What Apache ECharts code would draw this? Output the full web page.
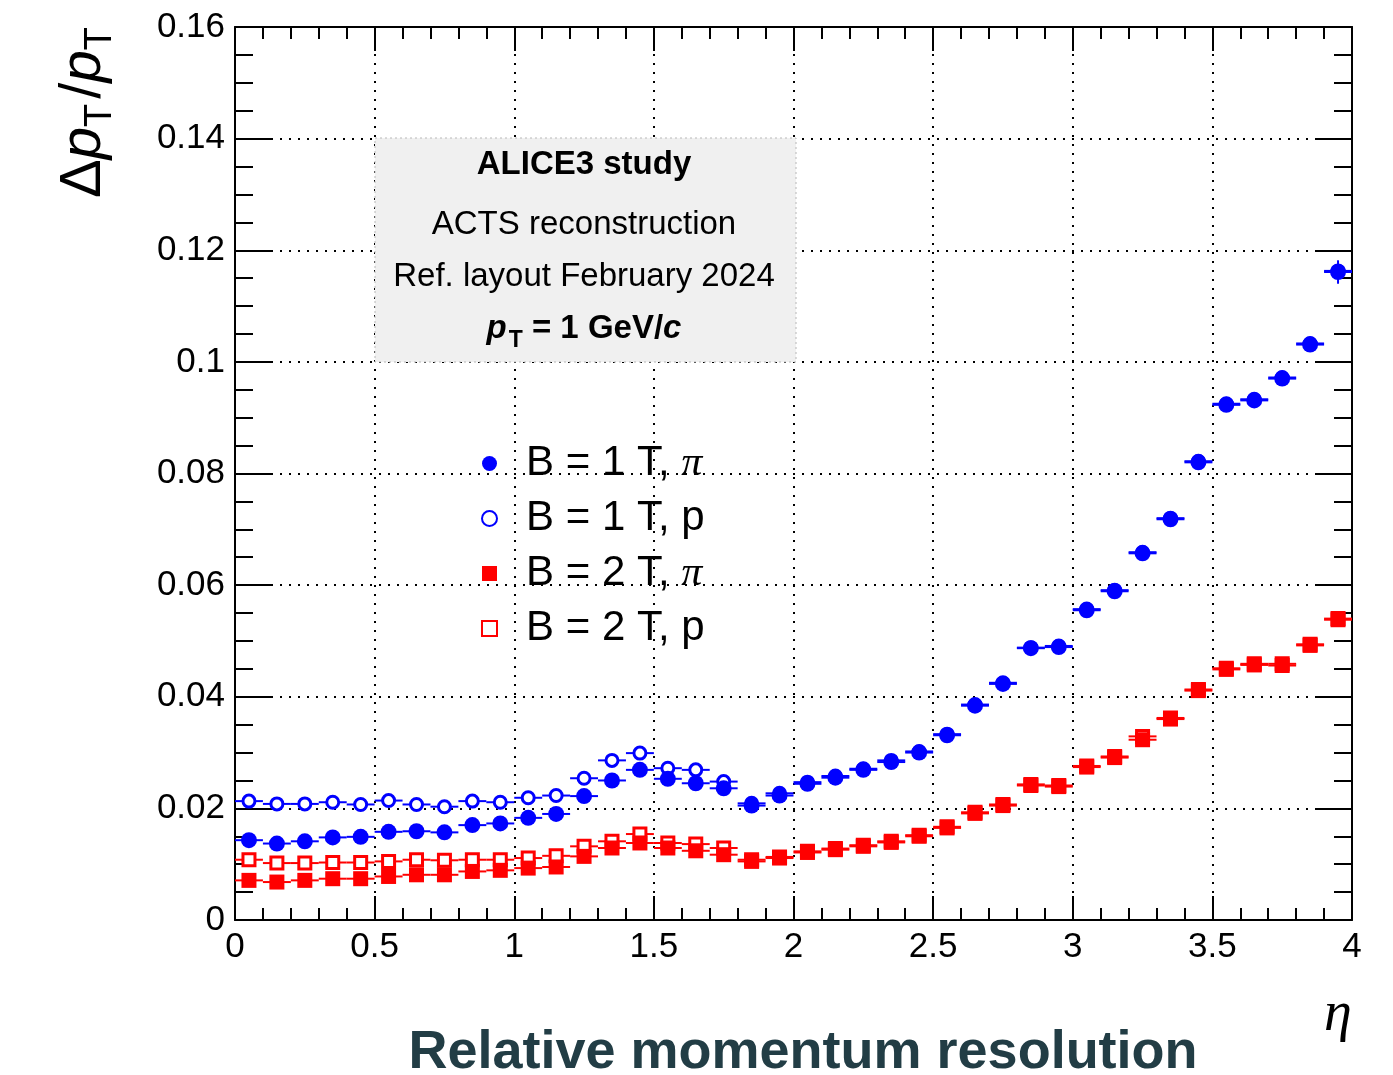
<!DOCTYPE html>
<html>
<head>
<meta charset="utf-8">
<script src="https://cdn.jsdelivr.net/npm/echarts@6/dist/echarts.min.js"></script>
<style>
html,body{margin:0;padding:0;background:#fff;}
#chart{width:1393px;height:1075px;}
</style>
</head>
<body>
<div id="chart"></div>
<script>
// ---- data ----
const eta = [0.05,0.15,0.25,0.35,0.45,0.55,0.65,0.75,0.85,0.95,
             1.05,1.15,1.25,1.35,1.45,1.55,1.65,1.75,1.85,1.95,
             2.05,2.15,2.25,2.35,2.45,2.55,2.65,2.75,2.85,2.95,
             3.05,3.15,3.25,3.35,3.45,3.55,3.65,3.75,3.85,3.95];
const binHalfWidth = 0.05;

const b1Pi = [0.0143,0.0137,0.0141,0.0148,0.0149,0.0158,0.0159,0.0157,0.0170,0.0173,
              0.0183,0.0190,0.0222,0.0250,0.0269,0.0253,0.0245,0.0236,0.0205,0.0223,
              0.0244,0.0255,0.0269,0.0283,0.0300,0.0331,0.0384,0.0423,0.0487,0.0489,
              0.0555,0.0589,0.0657,0.0718,0.0820,0.0923,0.0931,0.0970,0.1031,0.1161];
const b1PiErr = [0.0003,0.0003,0.0003,0.0003,0.0003,0.0003,0.0003,0.0003,0.0003,0.0003,
                 0.0003,0.0003,0.0003,0.0003,0.0003,0.0003,0.0003,0.0003,0.0003,0.0003,
                 0.0003,0.0003,0.0003,0.0003,0.0003,0.0003,0.0003,0.0003,0.0003,0.0003,
                 0.0003,0.0003,0.0004,0.0004,0.0005,0.0008,0.0008,0.0008,0.0012,0.0021];
const b1P  = [0.0213,0.0208,0.0208,0.0211,0.0207,0.0214,0.0207,0.0203,0.0213,0.0211,
              0.0219,0.0223,0.0254,0.0286,0.0299,0.0272,0.0269,0.0248,0.0209,0.0227,
              0.0247,0.0258,0.0271,0.0286,0.0302,0.0333,0.0386,0.0425,0.0488,0.0491,
              0.0557,0.0591,0.0659,0.0720,0.0822,0.0925,0.0933,0.0972,0.1033,0.1163];
const b2Pi = [0.0071,0.0068,0.0071,0.0074,0.0074,0.0078,0.0081,0.0081,0.0087,0.0089,
              0.0093,0.0095,0.0114,0.0129,0.0138,0.0129,0.0124,0.0117,0.0105,0.0111,
              0.0121,0.0126,0.0132,0.0139,0.0150,0.0165,0.0191,0.0205,0.0241,0.0239,
              0.0274,0.0291,0.0323,0.0360,0.0411,0.0449,0.0457,0.0456,0.0492,0.0538];
const b2P  = [0.0108,0.0102,0.0102,0.0103,0.0103,0.0105,0.0108,0.0107,0.0108,0.0108,
              0.0111,0.0115,0.0132,0.0141,0.0154,0.0138,0.0136,0.0129,0.0108,0.0113,
              0.0123,0.0128,0.0134,0.0141,0.0152,0.0167,0.0193,0.0207,0.0243,0.0241,
              0.0276,0.0293,0.0329,0.0362,0.0413,0.0451,0.0459,0.0459,0.0494,0.0540];

const seriesNames = ['B = 1 T, π', 'B = 1 T, p', 'B = 2 T, π', 'B = 2 T, p'];
const infoLines = ['ALICE3 study', 'ACTS reconstruction', 'Ref. layout February 2024'];
const chartTitle = 'Relative momentum resolution';

// ---- build ----
const BLUE = '#0000ff', RED = '#ff0000';
const FONT = '"Liberation Sans", Arial, Helvetica, sans-serif';
const SERIF = '"Liberation Serif", "DejaVu Serif", serif';

function pts(vals) { return eta.map((x, i) => [x, vals[i]]); }
function errPts(vals, errs) {
  return eta.map((x, i) => [x, vals[i], binHalfWidth, errs ? errs[i] : 0]);
}
function renderErr(params, api) {
  const x = api.value(0), y = api.value(1), ex = api.value(2), ey = api.value(3);
  const l = api.coord([x - ex, y]), r = api.coord([x + ex, y]);
  const b = api.coord([x, y - ey]), t = api.coord([x, y + ey]);
  const style = { stroke: api.visual('color'), lineWidth: 2 };
  const children = [{ type: 'line', shape: { x1: l[0], y1: l[1], x2: r[0], y2: r[1] }, style }];
  if (ey > 0) children.push({ type: 'line', shape: { x1: b[0], y1: b[1], x2: t[0], y2: t[1] }, style });
  return { type: 'group', children };
}
function errSeries(vals, errs, color) {
  return { type: 'custom', renderItem: renderErr, data: errPts(vals, errs),
           encode: { x: 0, y: 1 }, itemStyle: { color }, z: 2, silent: true, clip: true };
}

const chart = echarts.init(document.getElementById('chart'), null, { renderer: 'canvas' });

const xAxisBase = {
  type: 'value', min: 0, max: 4, interval: 0.5,
  axisLine: { show: true, onZero: false, lineStyle: { color: '#000', width: 2 } },
  axisTick: { show: true, inside: true, length: 24, lineStyle: { color: '#000', width: 2 } },
  minorTick: { show: true, splitNumber: 5, length: 12, lineStyle: { color: '#000', width: 2 } },
};
const yAxisBase = {
  type: 'value', min: 0, max: 0.16, interval: 0.02,
  axisLine: { show: true, onZero: false, lineStyle: { color: '#000', width: 2 } },
  axisTick: { show: true, inside: true, length: 36, lineStyle: { color: '#000', width: 2 } },
  minorTick: { show: true, splitNumber: 4, length: 18, lineStyle: { color: '#000', width: 2 } },
};

const option = {
  backgroundColor: '#fff',
  animation: false,
  grid: { left: 235, right: 41, top: 27, bottom: 155, containLabel: false },
  xAxis: [
    Object.assign({}, xAxisBase, {
      position: 'bottom',
      axisLabel: { fontSize: 35, color: '#000', fontFamily: FONT, margin: 10 },
      splitLine: { show: true, lineStyle: { color: '#000', type: [2, 7], width: 2 } },
    }),
    Object.assign({}, xAxisBase, {
      position: 'top', axisLabel: { show: false }, splitLine: { show: false },
    }),
  ],
  yAxis: [
    Object.assign({}, yAxisBase, {
      position: 'left',
      axisLabel: { fontSize: 35, color: '#000', fontFamily: FONT, margin: 10 },
      splitLine: { show: true, lineStyle: { color: '#000', type: [2, 7], width: 2 } },
    }),
    Object.assign({}, yAxisBase, {
      position: 'right', axisLabel: { show: false }, splitLine: { show: false },
    }),
  ],
  legend: {
    data: seriesNames,
    orient: 'vertical',
    left: 476, top: 431,
    itemGap: 0, itemWidth: 15, itemHeight: 15,
    selectedMode: false,
    textStyle: {
      fontFamily: FONT, fontSize: 42, color: '#000', lineHeight: 55,
      rich: {
        t: { fontFamily: FONT, fontSize: 42, color: '#000', lineHeight: 55, padding: [0, 0, 0, 24] },
        pi: { fontFamily: SERIF, fontStyle: 'italic', fontSize: 42, color: '#000', lineHeight: 55 },
      },
    },
    formatter: function (name) {
      if (name.slice(-1) === 'π') return '{t|' + name.slice(0, -1) + '}{pi|π}';
      return '{t|' + name + '}';
    },
  },
  series: [
    errSeries(b1P, null, BLUE),
    errSeries(b2P, null, RED),
    errSeries(b1Pi, b1PiErr, BLUE),
    errSeries(b2Pi, null, RED),
    { name: seriesNames[0], type: 'scatter', data: pts(b1Pi), symbol: 'circle', symbolSize: 16,
      itemStyle: { color: BLUE, opacity: 1 }, z: 5 },
    { name: seriesNames[1], type: 'scatter', data: pts(b1P), symbol: 'circle', symbolSize: 12,
      itemStyle: { color: '#fff', borderColor: BLUE, borderWidth: 3, opacity: 1 }, z: 3 },
    { name: seriesNames[2], type: 'scatter', data: pts(b2Pi), symbol: 'rect', symbolSize: 15,
      itemStyle: { color: RED, opacity: 1 }, z: 5 },
    { name: seriesNames[3], type: 'scatter', data: pts(b2P), symbol: 'rect', symbolSize: 12,
      itemStyle: { color: '#fff', borderColor: RED, borderWidth: 3, opacity: 1 }, z: 3 },
  ],
  graphic: [
    // info box
    { type: 'rect', z: 50, shape: { x: 375, y: 138, width: 421, height: 224 },
      style: { fill: '#f0f0f0', stroke: '#b8b8b8', lineWidth: 1, lineDash: [2, 3] } },
    { type: 'text', z: 51, x: 584, y: 165,
      style: { text: infoLines[0], font: 'bold 33px ' + FONT, fill: '#000', align: 'center', verticalAlign: 'middle' } },
    { type: 'text', z: 51, x: 584, y: 225,
      style: { text: infoLines[1], font: '33px ' + FONT, fill: '#000', align: 'center', verticalAlign: 'middle' } },
    { type: 'text', z: 51, x: 584, y: 277,
      style: { text: infoLines[2], font: '33px ' + FONT, fill: '#000', align: 'center', verticalAlign: 'middle' } },
    { type: 'text', z: 51, x: 584, y: 329,
      style: {
        text: '{p|p}{s|T}{b| = 1 GeV/}{c|c}', align: 'center', verticalAlign: 'middle',
        rich: {
          p: { fontFamily: FONT, fontWeight: 'bold', fontStyle: 'italic', fontSize: 33, fill: '#000' },
          s: { fontFamily: FONT, fontWeight: 'bold', fontSize: 23, fill: '#000', padding: [24, 0, 0, 2] },
          b: { fontFamily: FONT, fontWeight: 'bold', fontSize: 33, fill: '#000' },
          c: { fontFamily: FONT, fontWeight: 'bold', fontStyle: 'italic', fontSize: 33, fill: '#000' },
        },
      } },
    // y-axis title
    { type: 'text', z: 51, x: 84, y: 110, rotation: Math.PI / 2,
      style: {
        text: '{d|Δ}{p|p}{s|T}{d|/}{p|p}{s|T}', align: 'center', verticalAlign: 'middle',
        rich: {
          d: { fontFamily: FONT, fontSize: 58, fill: '#000' },
          p: { fontFamily: FONT, fontStyle: 'italic', fontSize: 58, fill: '#000' },
          s: { fontFamily: FONT, fontSize: 38, fill: '#000', padding: [34, 5, 0, 0] },
        },
      } },
    // x-axis title
    { type: 'text', z: 51, x: 1338, y: 1015,
      style: { text: 'η', font: 'italic 56px ' + SERIF, fill: '#000', align: 'center', verticalAlign: 'middle' } },
    // bottom caption
    { type: 'text', z: 51, x: 803, y: 1053,
      style: { text: chartTitle, font: 'bold 54px ' + FONT, fill: '#223d45', align: 'center', verticalAlign: 'middle' } },
  ],
};
chart.setOption(option);
</script>
</body>
</html>
